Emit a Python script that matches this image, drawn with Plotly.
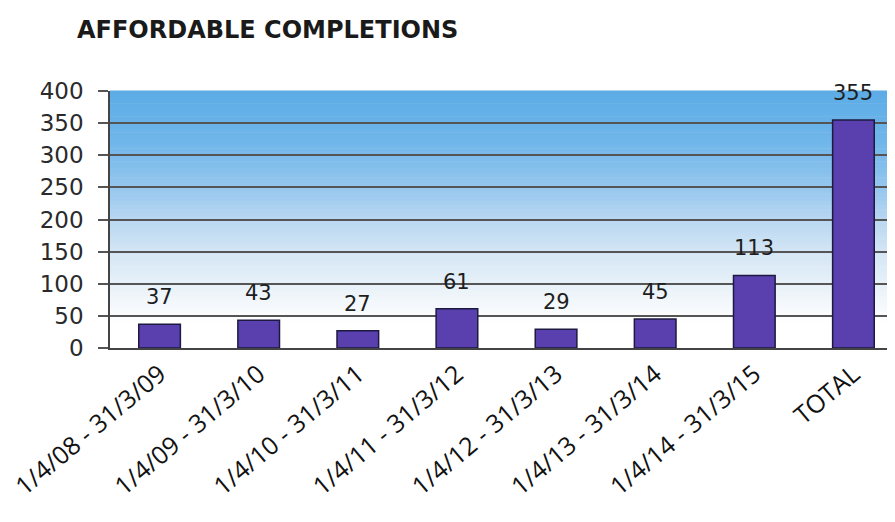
import plotly.graph_objects as go

categories = ["1/4/08 - 31/3/09", "1/4/09 - 31/3/10", "1/4/10 - 31/3/11",
              "1/4/11 - 31/3/12", "1/4/12 - 31/3/13", "1/4/13 - 31/3/14",
              "1/4/14 - 31/3/15", "TOTAL"]
completions = [37, 43, 27, 61, 29, 45, 113, 355]
y_ticks = [0, 50, 100, 150, 200, 250, 300, 350, 400]

fig = go.Figure()
fig.add_trace(go.Bar(
    x=categories, y=completions, width=0.42,
    marker=dict(color="#5a3fae", line=dict(color="#1c1a40", width=1.5)),
    hoverinfo="skip",
))

for c, v in zip(categories, completions):
    fig.add_annotation(x=c, y=v, text=str(v), showarrow=False, yshift=27,
                       yanchor="middle",
                       font=dict(family="DejaVu Sans", size=21, color="#1e1e1e"))

# gradient background bands
stops = [(0.0, (255, 255, 255)), (0.10, (255, 255, 255)), (0.22, (236, 243, 249)),
         (0.36, (214, 231, 245)), (0.5, (184, 215, 241)), (0.62, (150, 199, 238)),
         (0.8, (112, 182, 234)), (1.0, (92, 172, 230))]

def interp(f):
    for (f0, c0), (f1, c1) in zip(stops[:-1], stops[1:]):
        if f0 <= f <= f1:
            t = 0 if f1 == f0 else (f - f0) / (f1 - f0)
            return "rgb(%d,%d,%d)" % tuple(round(a + (b - a) * t) for a, b in zip(c0, c1))
    return "rgb(255,255,255)"

n = 80
for i in range(n):
    f0, f1 = i / n, (i + 1) / n
    fig.add_shape(type="rect", xref="x domain", yref="y domain", x0=0, x1=1,
                  y0=f0, y1=f1 + 0.002, fillcolor=interp((f0 + f1) / 2),
                  line=dict(width=0), layer="below")

fig.update_layout(
    width=895, height=522,
    margin=dict(l=99, r=0, t=83, b=182),
    paper_bgcolor="white", plot_bgcolor="white",
    showlegend=False,
    title=dict(text="<b>AFFORDABLE COMPLETIONS</b>", xref="container", yref="container",
               x=69 / 895, xanchor="left", y=1 - 22 / 522, yanchor="middle",
               font=dict(family="DejaVu Sans", size=24, color="#1a1a1a")),
)
fig.update_yaxes(range=[0, 400], tickvals=y_ticks, showgrid=True, gridcolor="#555555",
                 gridwidth=1.5, ticks="outside", ticklen=10, tickcolor="#555555",
                 tickwidth=1.5, showline=True, linecolor="#444444", linewidth=1.5,
                 zeroline=False, ticklabelstandoff=10,
                 tickfont=dict(family="DejaVu Sans", size=23, color="#2a2a2a"))
fig.update_xaxes(range=[-0.5, 7.5], tickangle=-40, showline=True, linecolor="#444444",
                 linewidth=1.5, ticks="",
                 tickfont=dict(family="Open Sans", size=25, color="#111111"))

fig.write_html("out.html")
